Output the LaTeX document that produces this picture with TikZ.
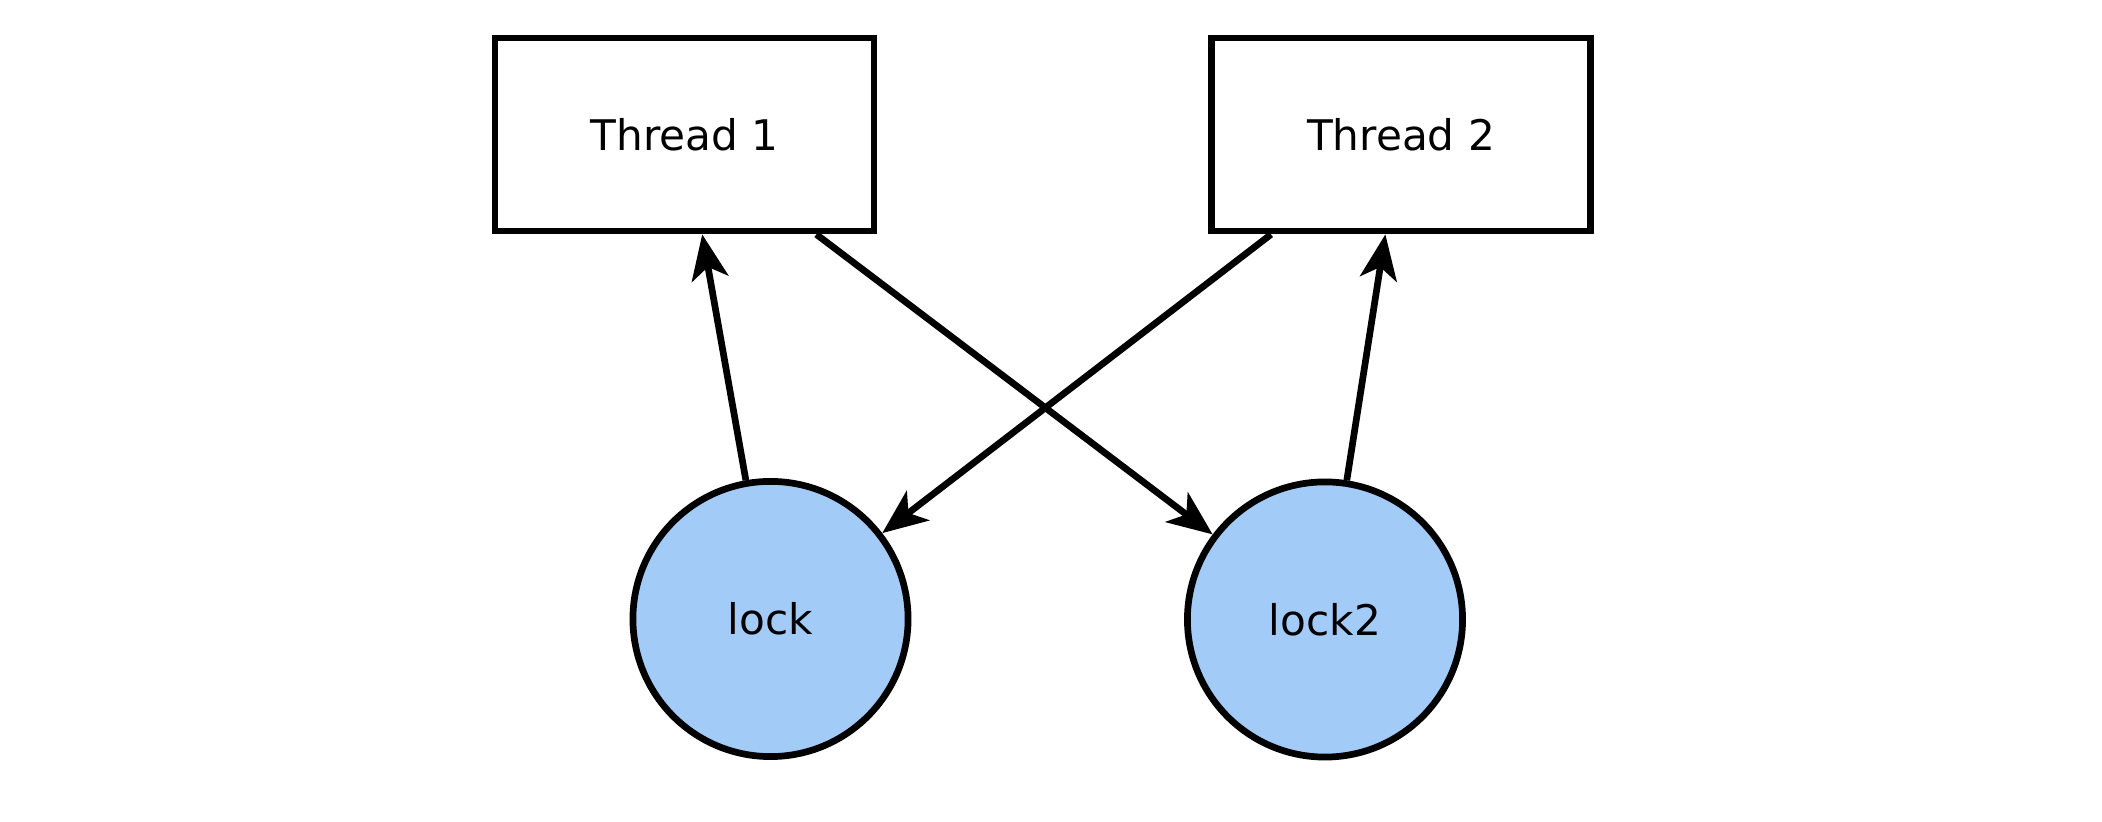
\documentclass[tikz,border=0pt]{standalone}
\usepackage{fontspec}
\setmainfont{DejaVu Sans}
\usepackage{tikz}
\usetikzlibrary{arrows.meta}

\definecolor{lockblue}{HTML}{A2CBF8}

\begin{document}
\begin{tikzpicture}[x=0.01cm, y=-0.01cm, line width=0.067cm,
        threadbox/.style={draw, rectangle, minimum width=3.79cm, minimum height=1.93cm,
            font=\fontsize{12}{14}\selectfont},
        lockcirc/.style={draw, circle, fill=lockblue, minimum size=2.75cm, inner sep=0pt,
            font=\fontsize{12}{14}\selectfont},
        waitedge/.style={-{Stealth[length=0.45cm, width=0.37cm, inset=0.12cm]}}]
        \useasboundingbox (0,0) rectangle (2102,822);

        % threads
        \node[threadbox] (t1) at (684.5,134.5) {Thread 1};
        \node[threadbox] (t2) at (1401,134.5) {Thread 2};

        % locks
        \node[lockcirc] (l1) at (770.5,619) {lock};
        \node[lockcirc] (l2) at (1325,619.5) {lock2};

        % edges
        \draw[waitedge] (l1) -- (t1);
        \draw[waitedge] (t1) -- (l2);
        \draw[waitedge] (t2) -- (l1);
        \draw[waitedge] (l2) -- (t2);

      \end{tikzpicture}
\end{document}
